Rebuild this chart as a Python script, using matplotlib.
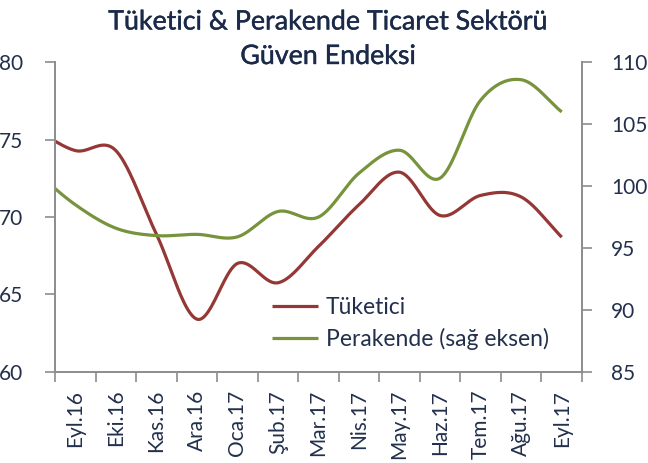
import numpy as np
import matplotlib
matplotlib.use("Agg")
import matplotlib.pyplot as plt
import matplotlib.patheffects as pe

# Monthly confidence index values (first month lies just before the visible range)
months = ["Ağu.16", "Eyl.16", "Eki.16", "Kas.16", "Ara.16", "Oca.17", "Şub.17",
          "Mar.17", "Nis.17", "May.17", "Haz.17", "Tem.17", "Ağu.17", "Eyl.17"]
tuketici = [75.7, 74.3, 74.3, 68.9, 63.4, 67.0, 65.75, 68.1, 70.8, 72.9, 70.1, 71.4, 71.3, 68.7]
perakende = [101.2, 98.5, 96.6, 96.0, 96.1, 95.9, 97.95, 97.5, 101.05, 102.9, 100.65, 106.95, 108.6, 106.0]

left_ticks = [60, 65, 70, 75, 80]
right_ticks = [85, 90, 95, 100, 105, 110]

RED = "#953735"
GREEN = "#77933c"
TEXT = "#23304d"
TITLE = "#1b2a48"
SPINE = "#8c8c8c"


def smooth(x, y, n=40):
    """Catmull-Rom style smoothing through every point (like spreadsheet smoothed lines)."""
    x = np.asarray(x, float)
    y = np.asarray(y, float)
    m = np.empty_like(y)
    m[1:-1] = (y[2:] - y[:-2]) / 2.0
    m[0] = y[1] - y[0]
    m[-1] = y[-1] - y[-2]
    xs, ys = [], []
    t = np.linspace(0, 1, n, endpoint=False)
    h00 = 2 * t**3 - 3 * t**2 + 1
    h10 = t**3 - 2 * t**2 + t
    h01 = -2 * t**3 + 3 * t**2
    h11 = t**3 - t**2
    for i in range(len(y) - 1):
        xs.append(x[i] + t * (x[i + 1] - x[i]))
        ys.append(h00 * y[i] + h10 * m[i] + h01 * y[i + 1] + h11 * m[i + 1])
    xs.append([x[-1]])
    ys.append([y[-1]])
    return np.concatenate(xs), np.concatenate(ys)


fig = plt.figure(figsize=(6.48, 4.63), dpi=100)
ax = fig.add_axes([55 / 648, 1 - 371.7 / 463, (582 - 55) / 648, (371.7 - 62.4) / 463])
ax2 = ax.twinx()

x = np.arange(len(months)) - 1
xr, yr = smooth(x, tuketici)
xg, yg = smooth(x, perakende)

l1, = ax.plot(xr, yr, color=RED, lw=2.3, solid_capstyle="butt", label="Tüketici")
l2, = ax2.plot(xg, yg, color=GREEN, lw=2.3, solid_capstyle="butt", label="Perakende (sağ eksen)")

n_vis = len(months) - 1
for a in (ax, ax2):
    a.set_xlim(-0.5, n_vis - 0.5)
    for s in a.spines.values():
        s.set_color(SPINE)
        s.set_linewidth(1.2)
    a.spines["top"].set_visible(False)

ax.set_ylim(60, 80)
ax2.set_ylim(85, 110)
ax.set_yticks(left_ticks)
ax2.set_yticks(right_ticks)

ax.set_xticks(np.arange(n_vis + 1) - 0.5)
ax.set_xticklabels([])
ax.set_xticks(np.arange(n_vis), minor=True)
ax.set_xticklabels(months[1:], minor=True, rotation=90)
ax.tick_params(axis="x", which="major", length=7, width=1.2, color=SPINE, direction="out")
ax.tick_params(axis="x", which="minor", length=0, pad=13, labelsize=15, labelcolor=TEXT)

ax.tick_params(axis="y", length=7, width=1.2, color=SPINE, pad=16, labelsize=15, labelcolor=TEXT)
ax2.tick_params(axis="y", length=7, width=1.2, color=SPINE, pad=14, labelsize=15, labelcolor=TEXT)

for a in (ax, ax2):
    for lab in a.get_yticklabels() + a.get_xticklabels(minor=True):
        lab.set_fontfamily("Lato")

leg = fig.legend(handles=[l1, l2], loc="center left", bbox_to_anchor=(272 / 648, 1 - 323.5 / 463),
                 frameon=False, borderpad=0, borderaxespad=0, handlelength=2.0,
                 handletextpad=0.35, labelspacing=0.42,
                 prop={"family": "Lato", "size": 16.5})
for t in leg.get_texts():
    t.set_color(TEXT)

# Title: regular weight thickened slightly with a thin outline of the same colour
for line, ypix in (("Tüketici & Perakende Ticaret Sektörü", 22), ("Güven Endeksi", 56.5)):
    fig.text(328 / 648, 1 - ypix / 463, line, ha="center", va="center",
             fontsize=19.3, color=TITLE, family="Lato",
             path_effects=[pe.withStroke(linewidth=0.3, foreground=TITLE)])

fig.savefig("out.png", dpi=100)
